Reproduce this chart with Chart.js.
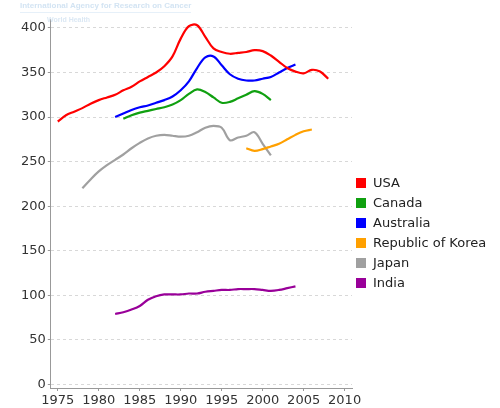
<!DOCTYPE html>
<html>
<head>
<meta charset="utf-8">
<script src="https://cdn.jsdelivr.net/npm/chart.js@4/dist/chart.umd.min.js"></script>
<style>
  body { margin: 0; background: #fff; }
  #wrap { position: relative; width: 500px; height: 408px; }
  #wm1 { position: absolute; left: 20px; top: 1px; font: bold 8px "Liberation Sans", Arial, sans-serif; color: #d3e4f3; border-bottom: 1px solid #e6f0f9; padding-bottom: 2px; white-space: nowrap; }
  #wm2 { position: absolute; left: 47px; top: 16px; font: bold 7px "Liberation Sans", Arial, sans-serif; color: #dbe8f4; white-space: nowrap; }
  #legend { position: absolute; left: 356px; top: 173px; font: 13px "DejaVu Sans", Verdana, sans-serif; color: #222; }
  #legend div { height: 20px; line-height: 20px; white-space: nowrap; }
  #legend span { display: inline-block; width: 10px; height: 10px; margin-right: 7px; vertical-align: -1px; }
</style>
</head>
<body>
<div id="wrap">
  <canvas id="chart" width="500" height="408"></canvas>
  <div id="wm1">International Agency for Research on Cancer</div>
  <div id="wm2">World Health</div>
  <div id="legend"></div>
</div>
<script>
// series data, values read per year
const usaStart = 1975;
const usaValues = [295, 302, 306, 310, 315, 319, 322, 325, 330, 334, 340, 345, 350, 357, 368, 388, 402, 403, 390, 377, 373, 371, 372, 373, 375, 374, 369, 362, 355, 351, 349, 353, 351, 343];

const canadaStart = 1983;
const canadaValues = [298, 302, 305, 307, 309, 311, 314, 319, 326, 331, 328, 322, 316, 317, 321, 325, 329, 326, 319];

const australiaStart = 1982;
const australiaValues = [300, 304, 308, 311, 313, 316, 319, 323, 330, 340, 355, 367, 368, 358, 348, 343, 341, 341, 343, 345, 350, 355, 359];

const koreaStart = 1998;
const koreaValues = [265, 262, 264, 267, 270, 275, 280, 284, 286];

const japanStart = 1978;
const japanValues = [220, 230, 239, 246, 252, 258, 265, 271, 276, 279, 280, 279, 278, 279, 283, 288, 290, 288, 274, 277, 279, 283, 270, 257];

const indiaStart = 1982;
const indiaValues = [79, 81, 84, 88, 95, 99, 101, 101, 101, 102, 102, 104, 105, 106, 106, 107, 107, 107, 106, 105, 106, 108, 110];

const seriesNames = ["USA", "Canada", "Australia", "Republic of Korea", "Japan", "India"];
const seriesColors = ["#ff0000", "#10a010", "#0000ff", "#ffa000", "#a0a0a0", "#990099"];

const xTicks = [1975, 1980, 1985, 1990, 1995, 2000, 2005, 2010];
const yTicks = [0, 50, 100, 150, 200, 250, 300, 350, 400];

function toPoints(start, values) {
  return values.map((v, i) => ({ x: start + i, y: v }));
}

const allSeries = [
  toPoints(usaStart, usaValues),
  toPoints(canadaStart, canadaValues),
  toPoints(australiaStart, australiaValues),
  toPoints(koreaStart, koreaValues),
  toPoints(japanStart, japanValues),
  toPoints(indiaStart, indiaValues),
];

const datasets = allSeries.map((pts, i) => ({
  label: seriesNames[i],
  data: pts,
  borderColor: seriesColors[i],
  backgroundColor: seriesColors[i],
  borderWidth: 2.2,
  pointRadius: 0,
  tension: 0.35,
  fill: false,
}));

const tickFont = { family: "'DejaVu Sans', Verdana, sans-serif", size: 13, lineHeight: 1 };

new Chart(document.getElementById("chart"), {
  type: "line",
  data: { datasets: datasets },
  options: {
    responsive: false,
    animation: false,
    layout: { padding: { left: 19, right: 148, top: 19, bottom: -2 } },
    plugins: {
      legend: { display: false },
      tooltip: { enabled: false },
    },
    scales: {
      x: {
        type: "linear",
        min: 1974.15,
        max: 2010.9,
        afterBuildTicks: (scale) => { scale.ticks = xTicks.map((v) => ({ value: v })); },
        ticks: { font: tickFont, color: "#333", padding: 3, maxRotation: 0, callback: (v) => String(v) },
        grid: { drawOnChartArea: false, tickLength: 3, tickColor: "#999" },
        border: { color: "#999", width: 1 },
      },
      y: {
        min: -4,
        max: 410,
        afterBuildTicks: (scale) => { scale.ticks = yTicks.map((v) => ({ value: v })); },
        ticks: { font: tickFont, color: "#333", padding: 2 },
        grid: { color: "#d8d8d8", tickLength: 3, tickColor: "#999", tickBorderDash: [] },
        border: { color: "#999", width: 1, dash: [3, 3] },
      },
    },
  },
});

// legend, same order as the datasets
const legendEl = document.getElementById("legend");
seriesNames.forEach((name, i) => {
  const row = document.createElement("div");
  row.innerHTML = '<span style="background:' + seriesColors[i] + '"></span>' + name;
  legendEl.appendChild(row);
});
</script>
</body>
</html>
